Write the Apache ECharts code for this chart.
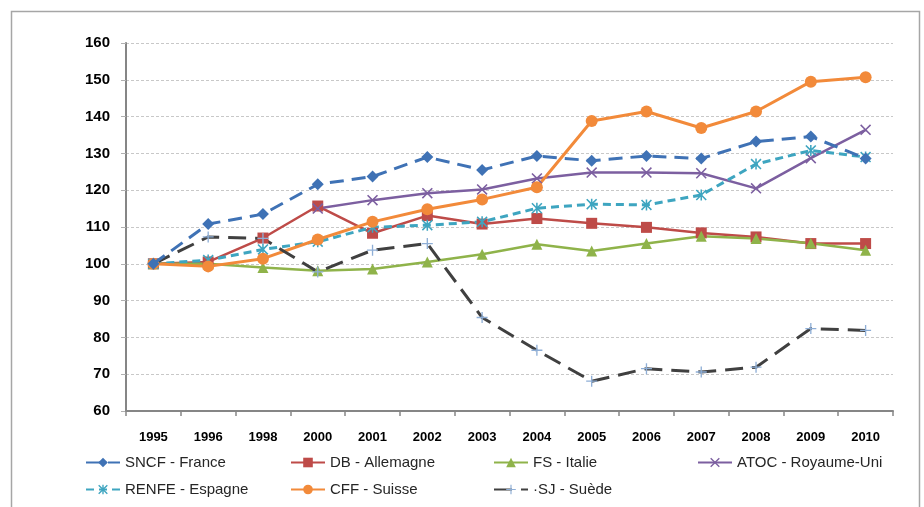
<!DOCTYPE html>
<html><head><meta charset="utf-8">
<script src="https://cdn.jsdelivr.net/npm/echarts@6/dist/echarts.min.js"></script>
<style>html,body{margin:0;padding:0;background:#fff}#c{width:924px;height:507px}</style>
</head><body><div id="c"></div>
<script>
const years = ['1995','1996','1998','2000','2001','2002','2003','2004','2005','2006','2007','2008','2009','2010'];
const yTicks = {min:60, max:160, interval:10};
const sncf  = [100,110.8,113.5,121.6,123.7,129,125.5,129.3,128,129.3,128.6,133.2,134.6,128.6];
const db    = [100,100.5,107,115.7,108.3,113.1,110.8,112.3,111,109.9,108.4,107.3,105.5,105.5];
const fs    = [100,100,99,98.1,98.6,100.5,102.6,105.3,103.5,105.5,107.5,106.9,105.6,103.7];
const atoc  = ['-','-','-',115,117.3,119.2,120.2,123.2,124.8,124.8,124.6,120.5,128.7,136.4];
const renfe = [100,101,103.9,106,109.9,110.5,111.4,115.1,116.2,116,118.7,127.1,130.8,129];
const cff   = [100,99.3,101.4,106.6,111.4,114.8,117.5,120.8,138.8,141.4,136.9,141.4,149.5,150.7];
const sj    = [100,107.3,106.9,97.8,103.7,105.5,85.4,76.5,68.1,71.5,70.6,71.9,82.4,81.9];
const names = ['SNCF - France','DB - Allemagne','FS - Italie','ATOC - Royaume-Uni','RENFE - Espagne','CFF - Suisse','·SJ - Suède'];

const FONT = '"Liberation Sans",Arial,sans-serif';
const X_PATH = 'path://M1,0 L5,4 L9,0 L10,1 L6,5 L10,9 L9,10 L5,6 L1,10 L0,9 L4,5 L0,1 Z';
const AST_PATH = 'path://M1,0 L5,4 L9,0 L10,1 L6,5 L10,9 L9,10 L5,6 L1,10 L0,9 L4,5 L0,1 Z M4.3,0 L5.7,0 L5.7,10 L4.3,10 Z';
const PLUS_PATH = 'path://M4.4,0 L5.6,0 L5.6,4.4 L10,4.4 L10,5.6 L5.6,5.6 L5.6,10 L4.4,10 L4.4,5.6 L0,5.6 L0,4.4 L4.4,4.4 Z';

function ser(name, data, color, lineType, width, symbol, size, symColor, z){
  return {name, type:'line', data, z: z||2, symbol, symbolSize:size, showSymbol:true,
    connectNulls:false, animation:false,
    lineStyle:{color, width, type:lineType},
    itemStyle:{color: symColor||color, borderWidth:0}};
}
const legendPos = [[85,455],[290,455],[493,455],[697,455],[85,482],[290,482],[493,482]];
const legends = names.map((n,i)=>({left:legendPos[i][0], top:legendPos[i][1], data:[n],
  itemWidth:34, itemHeight:12, padding:0,
  textStyle:{fontFamily:FONT, fontSize:15, color:'#262626'}}));

const chart = echarts.init(document.getElementById('c'), null, {renderer:'canvas'});
chart.setOption({
  backgroundColor:'#ffffff',
  animation:false,
  graphic:[{type:'rect', shape:{x:11.5,y:11.5,width:908,height:600}, style:{fill:'none', stroke:'#a6a6a6', lineWidth:1.5}, silent:true}],
  grid:{left:126, right:31, top:43, bottom:96},
  legend:legends,
  xAxis:{type:'category', data:years, boundaryGap:true,
    axisLine:{lineStyle:{color:'#868686', width:2}},
    axisTick:{show:true, length:5, lineStyle:{color:'#868686', width:1.5}},
    axisLabel:{fontFamily:FONT, fontWeight:'bold', fontSize:13, color:'#000', margin:20}},
  yAxis:{type:'value', min:yTicks.min, max:yTicks.max, interval:yTicks.interval,
    axisLine:{show:true, lineStyle:{color:'#868686', width:2}},
    axisTick:{show:true, length:5, lineStyle:{color:'#b0b0b0', width:1}},
    splitLine:{show:true, lineStyle:{color:'#c8c8c8', type:[3,2], width:1}},
    axisLabel:{fontFamily:FONT, fontWeight:'bold', fontSize:15, color:'#000', margin:16}},
  series:[
    ser(names[0], sncf, '#3f72b5', [14,8], 3, 'diamond', 12, null, 3),
    ser(names[1], db, '#be4b48', 'solid', 2.5, 'rect', 11),
    ser(names[2], fs, '#8fb34a', 'solid', 2.5, 'triangle', 11),
    ser(names[3], atoc, '#7c5fa0', 'solid', 2.5, X_PATH, 11),
    ser(names[4], renfe, '#3ea5c0', [8,5], 3, AST_PATH, 11),
    ser(names[5], cff, '#f28a3a', 'solid', 3, 'circle', 12),
    ser(names[6], sj, '#404040', [18,9], 3, PLUS_PATH, 11, '#8eaed6')
  ]
});
</script></body></html>
